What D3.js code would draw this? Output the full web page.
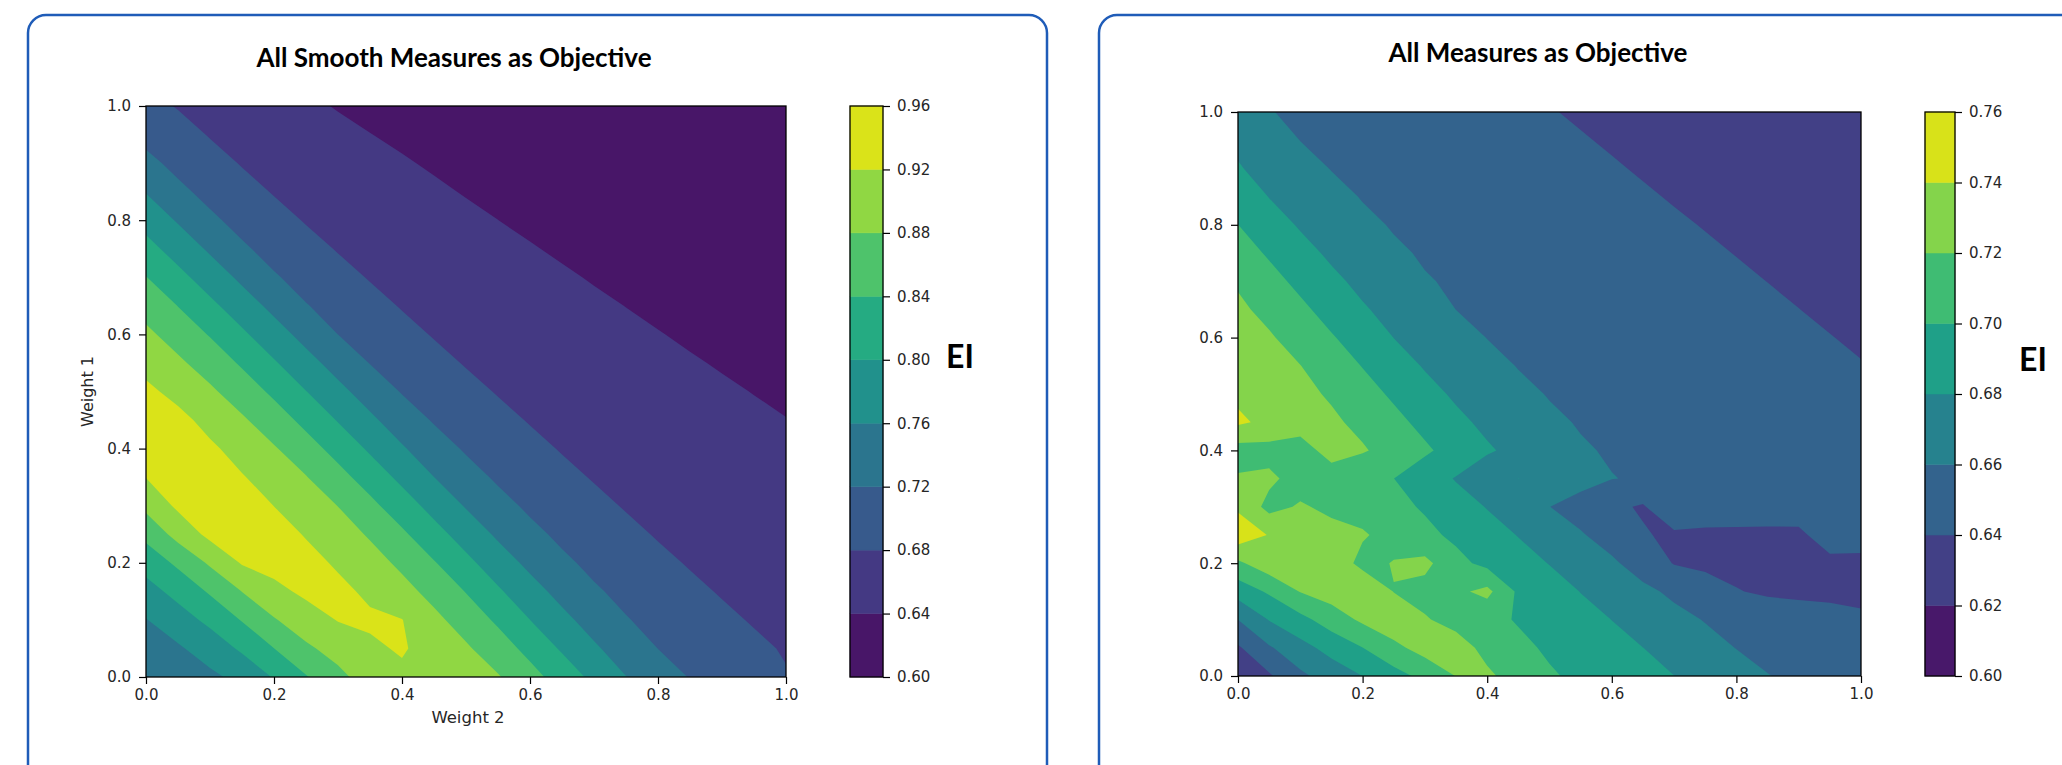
<!DOCTYPE html>
<html>
<head>
<meta charset="utf-8">
<script src="https://cdnjs.cloudflare.com/ajax/libs/d3/7.8.5/d3.min.js"></script>
<style>
  body { margin: 0; background: #fff; }
  svg text { font-family: "DejaVu Sans", sans-serif; fill: #262626; }
  .title, .cbLabel { font-family: Lato, "Open Sans", sans-serif; font-weight: bold; fill: #000; }
</style>
</head>
<body>
<div id="chart"></div>
<script>
// grid positions for Weight 2 (columns) and Weight 1 (rows)
var weightSteps = d3.range(21).map(function(i) { return +(i * 0.05).toFixed(2); });
var axisTicks = [0, 0.2, 0.4, 0.6, 0.8, 1.0];

// contour levels shown on the colour bars
var smoothLevels = [0.60, 0.64, 0.68, 0.72, 0.76, 0.80, 0.84, 0.88, 0.92, 0.96];
var allLevels = [0.60, 0.62, 0.64, 0.66, 0.68, 0.70, 0.72, 0.74, 0.76];

// EI, one row per Weight 1 value (0.00 first, 1.00 last)
var smoothEI = [
  [0.728, 0.740, 0.7521, 0.7708, 0.8028, 0.8372, 0.8702, 0.8974, 0.912, 0.9145, 0.9047, 0.8829, 0.8539, 0.8227, 0.7904, 0.7606, 0.7387, 0.7183, 0.7062, 0.6941, 0.682],
  [0.7432, 0.7552, 0.7771, 0.8063, 0.8397, 0.8736, 0.8939, 0.9135, 0.924, 0.9036, 0.8851, 0.8589, 0.8281, 0.7953, 0.7653, 0.7417, 0.7197, 0.7083, 0.6969, 0.6855, 0.6776],
  [0.7585, 0.7821, 0.8096, 0.8422, 0.8771, 0.9004, 0.9217, 0.9259, 0.921, 0.8893, 0.8636, 0.8333, 0.8001, 0.7699, 0.7448, 0.7221, 0.7093, 0.6976, 0.6859, 0.6777, 0.673],
  [0.785, 0.8127, 0.8449, 0.8808, 0.9089, 0.9286, 0.929, 0.9129, 0.8923, 0.868, 0.8383, 0.8052, 0.7744, 0.7478, 0.7246, 0.7103, 0.6983, 0.6862, 0.6777, 0.673, 0.6684],
  [0.8153, 0.8477, 0.8857, 0.9233, 0.9344, 0.9316, 0.9152, 0.8949, 0.8722, 0.8426, 0.8099, 0.7788, 0.7509, 0.7271, 0.7113, 0.6989, 0.6865, 0.6778, 0.6731, 0.6684, 0.6637],
  [0.851, 0.8936, 0.9301, 0.9393, 0.935, 0.9175, 0.8974, 0.8759, 0.8465, 0.8143, 0.7829, 0.754, 0.7297, 0.7124, 0.6996, 0.6869, 0.6778, 0.6732, 0.6685, 0.6638, 0.6591],
  [0.89, 0.9272, 0.9428, 0.9403, 0.9196, 0.8996, 0.8794, 0.85, 0.8185, 0.7868, 0.7571, 0.7323, 0.7134, 0.7004, 0.6873, 0.6779, 0.6732, 0.6686, 0.6639, 0.6592, 0.6545],
  [0.921, 0.9446, 0.9455, 0.9228, 0.9016, 0.8816, 0.8533, 0.8224, 0.7906, 0.7602, 0.7349, 0.7145, 0.701, 0.6876, 0.678, 0.6733, 0.6686, 0.664, 0.6593, 0.6546, 0.6499],
  [0.9483, 0.9509, 0.9275, 0.9037, 0.8834, 0.8562, 0.826, 0.7942, 0.7638, 0.7375, 0.7156, 0.7018, 0.688, 0.678, 0.6733, 0.6686, 0.664, 0.6593, 0.6546, 0.65, 0.6453],
  [0.953, 0.933, 0.9057, 0.8851, 0.8588, 0.8293, 0.7976, 0.7673, 0.74, 0.7167, 0.7025, 0.6883, 0.6781, 0.6734, 0.6688, 0.6641, 0.6595, 0.6548, 0.6502, 0.6455, 0.6408],
  [0.93, 0.9065, 0.8863, 0.8609, 0.8323, 0.8008, 0.7705, 0.7426, 0.7177, 0.7032, 0.6887, 0.6781, 0.6732, 0.6684, 0.6636, 0.6587, 0.6539, 0.649, 0.6442, 0.6392, 0.6335],
  [0.905, 0.8867, 0.8628, 0.835, 0.8039, 0.7735, 0.745, 0.7189, 0.704, 0.6891, 0.678, 0.673, 0.668, 0.6629, 0.6579, 0.6529, 0.6479, 0.6428, 0.6375, 0.6317, 0.6274],
  [0.8879, 0.8643, 0.8374, 0.8067, 0.7764, 0.7475, 0.7199, 0.7047, 0.6895, 0.678, 0.6728, 0.6675, 0.6623, 0.657, 0.6518, 0.6465, 0.6413, 0.6357, 0.6302, 0.6261, 0.6226],
  [0.8657, 0.8393, 0.8091, 0.779, 0.7498, 0.7219, 0.7055, 0.6899, 0.678, 0.6725, 0.667, 0.6616, 0.6561, 0.6506, 0.6451, 0.6396, 0.6339, 0.6289, 0.625, 0.6216, 0.6186],
  [0.841, 0.8113, 0.7815, 0.7521, 0.7238, 0.7062, 0.6903, 0.678, 0.6723, 0.6665, 0.6608, 0.6551, 0.6493, 0.6436, 0.6379, 0.6321, 0.6277, 0.6239, 0.6206, 0.6178, 0.6158],
  [0.8133, 0.7837, 0.7543, 0.7256, 0.7069, 0.6907, 0.678, 0.6719, 0.6659, 0.6599, 0.6539, 0.6479, 0.6419, 0.6361, 0.6306, 0.6263, 0.6228, 0.6197, 0.6172, 0.6153, 0.6133],
  [0.7858, 0.7564, 0.7274, 0.7077, 0.6911, 0.6779, 0.6716, 0.6653, 0.659, 0.6527, 0.6464, 0.6401, 0.6343, 0.6293, 0.6252, 0.6218, 0.6188, 0.6166, 0.6147, 0.6128, 0.6113],
  [0.7583, 0.729, 0.7084, 0.6915, 0.6779, 0.6712, 0.6646, 0.6579, 0.6513, 0.6446, 0.6382, 0.6325, 0.628, 0.624, 0.6208, 0.6179, 0.6159, 0.6141, 0.6123, 0.6108, 0.6098],
  [0.7306, 0.709, 0.692, 0.6779, 0.6709, 0.6638, 0.6568, 0.6497, 0.6427, 0.6365, 0.631, 0.6265, 0.623, 0.62, 0.6173, 0.6154, 0.6135, 0.6119, 0.6104, 0.6096, 0.6087],
  [0.708, 0.692, 0.678, 0.6704, 0.663, 0.6555, 0.648, 0.6405, 0.6347, 0.6294, 0.6254, 0.622, 0.619, 0.6167, 0.6148, 0.6129, 0.6114, 0.6102, 0.6093, 0.6083, 0.6072],
  [0.69, 0.678, 0.67, 0.662, 0.654, 0.646, 0.638, 0.633, 0.628, 0.624, 0.621, 0.618, 0.616, 0.614, 0.612, 0.611, 0.61, 0.609, 0.608, 0.607, 0.606]
];

// EI, same layout
var allEI = [
  [0.622, 0.6375, 0.656, 0.6689, 0.6801, 0.6925, 0.7056, 0.7205, 0.7235, 0.7116, 0.7022, 0.696, 0.6907, 0.6853, 0.6801, 0.6735, 0.6669, 0.6604, 0.6574, 0.6547, 0.652],
  [0.6375, 0.6578, 0.6732, 0.6869, 0.6998, 0.7151, 0.7276, 0.7293, 0.7139, 0.7046, 0.6971, 0.6914, 0.6856, 0.6801, 0.673, 0.6661, 0.6596, 0.6566, 0.6535, 0.6504, 0.6473],
  [0.6601, 0.681, 0.6942, 0.7096, 0.7236, 0.7328, 0.7217, 0.713, 0.7056, 0.6984, 0.6922, 0.686, 0.6798, 0.6725, 0.6652, 0.6591, 0.6558, 0.6525, 0.6492, 0.6459, 0.6426],
  [0.6885, 0.7028, 0.7209, 0.729, 0.7378, 0.7195, 0.713, 0.716, 0.725, 0.6966, 0.6881, 0.6796, 0.6719, 0.6642, 0.6565, 0.6488, 0.641, 0.637, 0.636, 0.636, 0.636],
  [0.7164, 0.732, 0.737, 0.734, 0.714, 0.721, 0.725, 0.706, 0.6944, 0.687, 0.6794, 0.6712, 0.663, 0.6516, 0.6391, 0.636, 0.634, 0.634, 0.634, 0.634, 0.634],
  [0.752, 0.739, 0.728, 0.726, 0.722, 0.713, 0.705, 0.6959, 0.6876, 0.6793, 0.6705, 0.6617, 0.6519, 0.6418, 0.636, 0.634, 0.634, 0.634, 0.635, 0.6521, 0.6506],
  [0.737, 0.714, 0.722, 0.716, 0.7127, 0.7055, 0.6978, 0.6884, 0.6791, 0.6696, 0.6602, 0.652, 0.6439, 0.638, 0.6583, 0.6568, 0.6552, 0.6537, 0.6521, 0.6506, 0.649],
  [0.722, 0.724, 0.712, 0.71, 0.704, 0.7001, 0.6895, 0.6788, 0.6683, 0.6801, 0.6736, 0.667, 0.6604, 0.6585, 0.657, 0.6554, 0.6538, 0.6522, 0.6507, 0.6491, 0.6475],
  [0.712, 0.713, 0.711, 0.7279, 0.7218, 0.7128, 0.7029, 0.6926, 0.6822, 0.6747, 0.6681, 0.6614, 0.6587, 0.6571, 0.6555, 0.6539, 0.6523, 0.6507, 0.6491, 0.6475, 0.6459],
  [0.743, 0.7357, 0.7294, 0.7232, 0.7153, 0.7052, 0.6948, 0.6842, 0.676, 0.6692, 0.6625, 0.659, 0.6573, 0.6557, 0.654, 0.6524, 0.6507, 0.6491, 0.6474, 0.6458, 0.6441],
  [0.7367, 0.7307, 0.7247, 0.7178, 0.7075, 0.697, 0.6863, 0.6772, 0.6704, 0.6636, 0.6592, 0.6575, 0.6558, 0.6541, 0.6525, 0.6508, 0.6491, 0.6474, 0.6457, 0.6441, 0.6424],
  [0.7323, 0.7263, 0.7203, 0.7099, 0.6993, 0.6885, 0.6785, 0.6716, 0.6647, 0.6594, 0.6577, 0.656, 0.6543, 0.6525, 0.6508, 0.6491, 0.6474, 0.6456, 0.6439, 0.6422, 0.6405],
  [0.7279, 0.7219, 0.7125, 0.7016, 0.6907, 0.6798, 0.6728, 0.6658, 0.6597, 0.6579, 0.6562, 0.6544, 0.6526, 0.6509, 0.6491, 0.6474, 0.6456, 0.6438, 0.6421, 0.6403, 0.6384],
  [0.7234, 0.7151, 0.704, 0.6929, 0.6819, 0.6741, 0.667, 0.6599, 0.6581, 0.6564, 0.6546, 0.6528, 0.651, 0.6492, 0.6474, 0.6456, 0.6438, 0.6419, 0.6401, 0.6382, 0.6363],
  [0.7179, 0.7065, 0.6952, 0.6841, 0.6754, 0.6682, 0.6609, 0.6584, 0.6565, 0.6547, 0.6528, 0.651, 0.6491, 0.6473, 0.6455, 0.6436, 0.6418, 0.6399, 0.6379, 0.6361, 0.6343],
  [0.7089, 0.6976, 0.6863, 0.6767, 0.6694, 0.6621, 0.6586, 0.6567, 0.6548, 0.6529, 0.651, 0.6491, 0.6472, 0.6453, 0.6435, 0.6416, 0.6397, 0.6377, 0.6359, 0.6341, 0.6325],
  [0.7001, 0.6885, 0.6781, 0.6707, 0.6632, 0.6589, 0.657, 0.655, 0.6531, 0.6511, 0.6492, 0.6472, 0.6453, 0.6433, 0.6414, 0.6395, 0.6375, 0.6357, 0.634, 0.6323, 0.6307],
  [0.6907, 0.6795, 0.672, 0.6644, 0.6592, 0.6572, 0.6552, 0.6532, 0.6512, 0.6492, 0.6472, 0.6452, 0.6432, 0.6412, 0.6392, 0.6373, 0.6355, 0.6338, 0.6321, 0.6306, 0.6291],
  [0.6815, 0.6733, 0.6656, 0.6595, 0.6574, 0.6554, 0.6533, 0.6513, 0.6492, 0.6472, 0.6451, 0.6431, 0.641, 0.639, 0.6371, 0.6353, 0.6336, 0.6319, 0.6304, 0.629, 0.6276],
  [0.676, 0.6675, 0.6598, 0.6577, 0.6555, 0.6534, 0.6513, 0.6492, 0.6471, 0.645, 0.6429, 0.6408, 0.6388, 0.6369, 0.6351, 0.6334, 0.6318, 0.6303, 0.6288, 0.6275, 0.6263],
  [0.672, 0.6605, 0.6579, 0.6558, 0.6536, 0.6514, 0.6493, 0.6471, 0.6449, 0.6428, 0.6406, 0.6386, 0.6367, 0.6349, 0.6332, 0.6316, 0.6301, 0.6287, 0.6274, 0.6261, 0.625]
];

// STEP 1: CANVAS
var svg = d3.select("#chart")
    .append("svg")
    .attr("width", 2062)
    .attr("height", 765);

// rounded blue frames round each panel
svg.append("rect")
    .attr("x", 28).attr("y", 15)
    .attr("width", 1019).attr("height", 800)
    .attr("rx", 18)
    .attr("fill", "none")
    .attr("stroke", "#1f5cb8")
    .attr("stroke-width", 2.5);

svg.append("rect")
    .attr("x", 1099).attr("y", 15)
    .attr("width", 1100).attr("height", 800)
    .attr("rx", 18)
    .attr("fill", "none")
    .attr("stroke", "#1f5cb8")
    .attr("stroke-width", 2.5);

// STEP 2: PANELS
drawPanel({
    id: "smooth",
    grid: smoothEI,
    levels: smoothLevels,
    plot: { left: 146, right: 786, top: 106, bottom: 677 },
    bar: { left: 850, right: 883 },
    title: "All Smooth Measures as Objective",
    titleX: 454, titleY: 67,
    eiX: 946, eiY: 368,
    xLabel: "Weight 2",
    yLabel: "Weight 1"
});

drawPanel({
    id: "all",
    grid: allEI,
    levels: allLevels,
    plot: { left: 1238, right: 1861, top: 112, bottom: 676 },
    bar: { left: 1925, right: 1955 },
    title: "All Measures as Objective",
    titleX: 1538, titleY: 62,
    eiX: 2019, eiY: 371
});

function drawPanel(cfg) {
    var p = cfg.plot;
    var nBands = cfg.levels.length - 1;
    var bandColor = function(i) { return d3.interpolateViridis((i + 0.5) / nBands); };

    var xScale = d3.scaleLinear().domain([0, 1]).range([p.left, p.right]);
    var yScale = d3.scaleLinear().domain([0, 1]).range([p.bottom, p.top]);

    // clip the filled contours to the axes box
    svg.append("clipPath")
        .attr("id", "clip-" + cfg.id)
        .append("rect")
        .attr("x", p.left).attr("y", p.top)
        .attr("width", p.right - p.left)
        .attr("height", p.bottom - p.top);

    // filled contours from the grid
    var n = weightSteps.length;
    var step = weightSteps[1] - weightSteps[0];
    var values = [].concat.apply([], cfg.grid);
    var contours = d3.contours()
        .size([n, cfg.grid.length])
        .thresholds(cfg.levels.slice(0, -1))(values);

    var toPixels = d3.geoTransform({
        point: function(x, y) {
            this.stream.point(xScale((x - 0.5) * step), yScale((y - 0.5) * step));
        }
    });
    var path = d3.geoPath(toPixels);

    svg.append("g")
        .attr("clip-path", "url(#clip-" + cfg.id + ")")
        .selectAll("path")
        .data(contours)
        .enter()
        .append("path")
        .attr("d", path)
        .attr("fill", function(d, i) { return bandColor(i); });

    // axes
    var bottomAxis = d3.axisBottom(xScale)
        .tickValues(axisTicks)
        .tickFormat(d3.format(".1f"))
        .tickSize(7)
        .tickPadding(5);
    var leftAxis = d3.axisLeft(yScale)
        .tickValues(axisTicks)
        .tickFormat(d3.format(".1f"))
        .tickSize(7)
        .tickPadding(8);

    var xAxis = svg.append("g")
        .attr("transform", `translate(0, ${p.bottom})`)
        .call(bottomAxis);
    var yAxis = svg.append("g")
        .attr("transform", `translate(${p.left}, 0)`)
        .call(leftAxis);

    [xAxis, yAxis].forEach(function(ax) {
        ax.select(".domain").remove();
        ax.selectAll("line").attr("stroke", "#000").attr("stroke-width", 1.2);
        ax.selectAll("text").attr("font-size", 15).attr("fill", "#262626");
    });

    svg.append("rect")
        .attr("x", p.left).attr("y", p.top)
        .attr("width", p.right - p.left)
        .attr("height", p.bottom - p.top)
        .attr("fill", "none")
        .attr("stroke", "#000")
        .attr("stroke-width", 1.3);

    // colour bar
    var barScale = d3.scaleLinear()
        .domain([cfg.levels[0], cfg.levels[nBands]])
        .range([p.bottom, p.top]);

    svg.append("g")
        .selectAll("rect")
        .data(d3.range(nBands))
        .enter()
        .append("rect")
        .attr("x", cfg.bar.left)
        .attr("width", cfg.bar.right - cfg.bar.left)
        .attr("y", function(i) { return barScale(cfg.levels[i + 1]); })
        .attr("height", function(i) { return barScale(cfg.levels[i]) - barScale(cfg.levels[i + 1]); })
        .attr("fill", function(i) { return bandColor(i); })
        .attr("stroke", function(i) { return bandColor(i); })
        .attr("stroke-width", 0.5);

    svg.append("rect")
        .attr("x", cfg.bar.left).attr("y", p.top)
        .attr("width", cfg.bar.right - cfg.bar.left)
        .attr("height", p.bottom - p.top)
        .attr("fill", "none")
        .attr("stroke", "#000")
        .attr("stroke-width", 1.3);

    var barAxis = svg.append("g")
        .attr("transform", `translate(${cfg.bar.right}, 0)`)
        .call(d3.axisRight(barScale)
            .tickValues(cfg.levels)
            .tickFormat(d3.format(".2f"))
            .tickSize(7)
            .tickPadding(7));
    barAxis.select(".domain").remove();
    barAxis.selectAll("line").attr("stroke", "#000").attr("stroke-width", 1.2);
    barAxis.selectAll("text").attr("font-size", 15).attr("fill", "#262626");

    // texts
    svg.append("text")
        .attr("class", "title")
        .attr("x", cfg.titleX)
        .attr("y", cfg.titleY)
        .attr("text-anchor", "middle")
        .attr("font-size", 26)
        .text(cfg.title);

    svg.append("text")
        .attr("class", "cbLabel")
        .attr("x", cfg.eiX)
        .attr("y", cfg.eiY)
        .attr("font-size", 32)
        .text("EI");

    if (cfg.xLabel) {
        svg.append("text")
            .attr("x", (p.left + p.right) / 2 + 2)
            .attr("y", 723)
            .attr("text-anchor", "middle")
            .attr("font-size", 16.5)
            .text(cfg.xLabel);
    }
    if (cfg.yLabel) {
        svg.append("text")
            .attr("transform", `translate(93, ${(p.top + p.bottom) / 2}) rotate(-90)`)
            .attr("text-anchor", "middle")
            .attr("font-size", 16)
            .text(cfg.yLabel);
    }
}
</script>
</body>
</html>
